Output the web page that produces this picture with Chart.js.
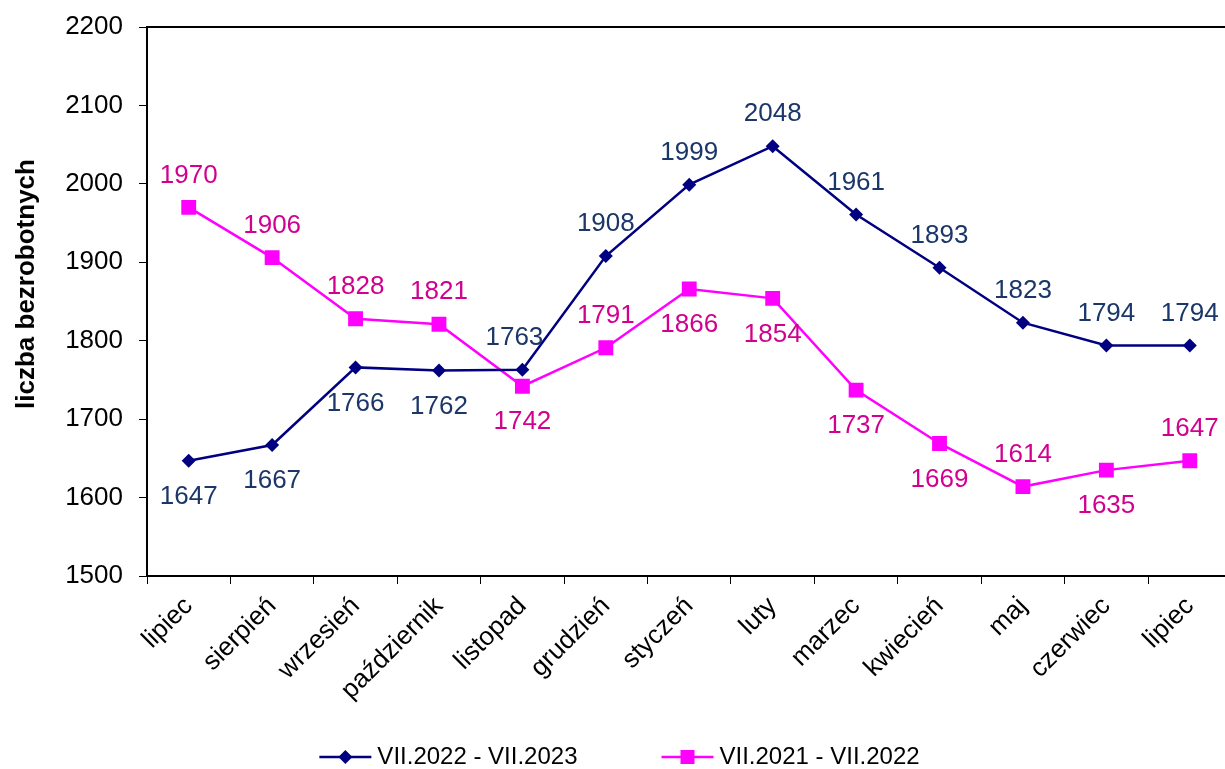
<!DOCTYPE html>
<html>
<head>
<meta charset="utf-8">
<script src="https://cdn.jsdelivr.net/npm/chart.js@4.4.0/dist/chart.umd.min.js"></script>
<style>
  html, body { margin: 0; padding: 0; background: #fff; overflow: hidden; }
</style>
</head>
<body>
<canvas id="line-chart" width="1242" height="769"></canvas>
<script>
// months on the x axis (July to July)
let months = ['lipiec', 'sierpień', 'wrzesień', 'październik', 'listopad', 'grudzień',
  'styczeń', 'luty', 'marzec', 'kwiecień', 'maj', 'czerwiec', 'lipiec'];

let current = [1647, 1667, 1766, 1762, 1763, 1908, 1999, 2048, 1961, 1893, 1823, 1794, 1794];
let previous = [1970, 1906, 1828, 1821, 1742, 1791, 1866, 1854, 1737, 1669, 1614, 1635, 1647];

let seriesNames = ['VII.2022 - VII.2023', 'VII.2021 - VII.2022'];
let yMin = 1500, yMax = 2200, yStep = 100;
let yTitle = 'liczba bezrobotnych';

let lineColors = ['#000080', '#ff00ff'];
let labelColors = ['#1b3668', '#d1008f'];
let fontName = '"Liberation Sans", Arial, sans-serif';

// where each value label sits: a = above the point, b = below
let labelPlace = [
  ['b', 'b', 'b', 'b', 'a', 'a', 'a', 'a', 'a', 'a', 'a', 'a', 'a'],
  ['a', 'a', 'a', 'a', 'b', 'a', 'b', 'b', 'b', 'b', 'a', 'b', 'a'],
];

let valueLabels = {
  id: 'valueLabels',
  afterDatasetsDraw(chart) {
    let ctx = chart.ctx;
    ctx.save();
    ctx.font = '26px ' + fontName;
    ctx.textAlign = 'center';
    ctx.textBaseline = 'middle';
    chart.data.datasets.forEach((ds, i) => {
      let meta = chart.getDatasetMeta(i);
      ctx.fillStyle = labelColors[i];
      meta.data.forEach((pt, j) => {
        let dy = labelPlace[i][j] == 'a' ? -32 : 36;
        let dx = (i == 0 && j == 4) ? -8 : 0;
        ctx.fillText(ds.data[j], pt.x + dx, pt.y + dy);
      });
    });
    ctx.restore();
  }
};

// box round the plot (top line is visible in the original)
let plotBorder = {
  id: 'plotBorder',
  beforeDatasetsDraw(chart) {
    let a = chart.chartArea;
    let ctx = chart.ctx;
    ctx.save();
    ctx.strokeStyle = '#000';
    ctx.lineWidth = 2;
    ctx.strokeRect(a.left, a.top, a.right - a.left, a.bottom - a.top);
    ctx.restore();
  }
};

// y title is drawn by hand, it sits a bit above the middle of the axis
let sideTitle = {
  id: 'sideTitle',
  afterDraw(chart) {
    let ctx = chart.ctx;
    ctx.save();
    ctx.font = 'bold 26px ' + fontName;
    ctx.fillStyle = '#000';
    ctx.textAlign = 'center';
    ctx.textBaseline = 'alphabetic';
    ctx.translate(34, 284);
    ctx.rotate(-Math.PI / 2);
    ctx.fillText(yTitle, 0, 0);
    ctx.restore();
  }
};

function drawMarker(ctx, style, x, y, color) {
  ctx.fillStyle = color;
  ctx.beginPath();
  if (style == 'diamond') {
    ctx.moveTo(x, y - 7);
    ctx.lineTo(x + 7, y);
    ctx.lineTo(x, y + 7);
    ctx.lineTo(x - 7, y);
  } else {
    ctx.rect(x - 7, y - 7, 14, 14);
  }
  ctx.closePath();
  ctx.fill();
}

let bottomLegend = {
  id: 'bottomLegend',
  afterDraw(chart) {
    let ctx = chart.ctx;
    ctx.save();
    ctx.font = '24px ' + fontName;
    ctx.textBaseline = 'middle';
    let sym = 52, gap = 6, between = 84;
    let widths = seriesNames.map(n => sym + gap + ctx.measureText(n).width);
    let total = widths.reduce((a, b) => a + b, 0) + between * (widths.length - 1);
    let x = 1225 / 2 - total / 2 + 7;
    let y = chart.height - 12;
    seriesNames.forEach((name, i) => {
      ctx.strokeStyle = lineColors[i];
      ctx.lineWidth = 2.5;
      ctx.beginPath();
      ctx.moveTo(x, y);
      ctx.lineTo(x + sym, y);
      ctx.stroke();
      drawMarker(ctx, i == 0 ? 'diamond' : 'square', x + sym / 2, y, lineColors[i]);
      ctx.fillStyle = '#000';
      ctx.fillText(name, x + sym + gap, y);
      x += widths[i] + between;
    });
    ctx.restore();
  }
};

let renderChart = () => {
  let lineChart = document.getElementById('line-chart').getContext('2d');

  new Chart(lineChart, {
    type: 'line',
    data: {
      labels: months,
      datasets: [
        {
          label: seriesNames[0],
          data: current,
          borderColor: lineColors[0],
          backgroundColor: lineColors[0],
          borderWidth: 2.5,
          pointStyle: 'rectRot',
          pointRadius: 7,
          pointBorderWidth: 0,
          tension: 0,
        },
        {
          label: seriesNames[1],
          data: previous,
          borderColor: lineColors[1],
          backgroundColor: lineColors[1],
          borderWidth: 2.5,
          pointStyle: 'rect',
          pointRadius: 10.5,
          pointBorderWidth: 0,
          tension: 0,
        },
      ],
    },
    options: {
      responsive: false,
      animation: false,
      layout: { padding: { top: 27, right: 0, bottom: 43, left: 0 } },
      plugins: {
        legend: { display: false },
        tooltip: { enabled: false },
      },
      scales: {
        x: {
          offset: true,
          grid: { offset: true, drawOnChartArea: false, tickLength: 8, color: '#000' },
          border: { color: '#000', width: 2 },
          ticks: {
            color: '#000',
            font: { family: fontName, size: 26 },
            maxRotation: 45,
            minRotation: 45,
            autoSkip: false,
            padding: 7,
          },
          afterFit: scale => { scale.height = 150; },
        },
        y: {
          min: yMin,
          max: yMax,
          ticks: {
            stepSize: yStep,
            color: '#000',
            font: { family: fontName, size: 26 },
            padding: 16,
            callback: v => String(v),
          },
          grid: { drawOnChartArea: false, tickLength: 8, color: '#000' },
          border: { color: '#000', width: 2 },
          afterFit: scale => {
            scale.width = 147;
            scale.paddingTop = 0;
            scale.paddingBottom = 0;
          },
        },
      },
    },
    plugins: [plotBorder, valueLabels, sideTitle, bottomLegend],
  });
};

renderChart();
</script>
</body>
</html>
